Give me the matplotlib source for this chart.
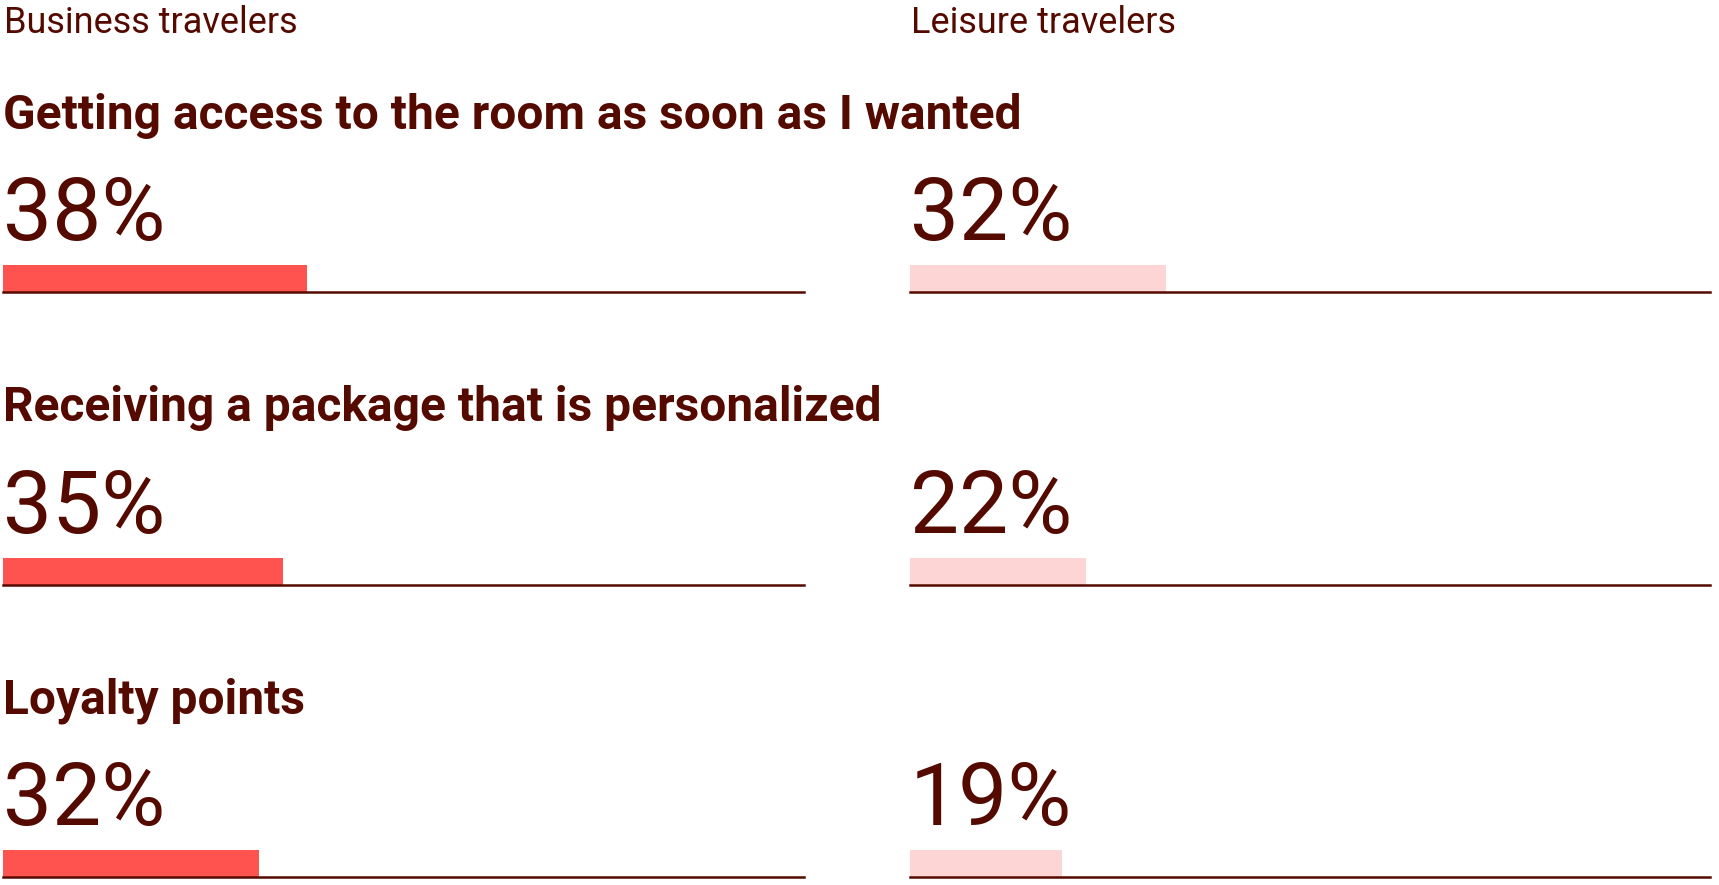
import matplotlib
matplotlib.use("Agg")
import matplotlib.pyplot as plt

# ───── DATA ─────
groups = ["Business travelers", "Leisure travelers"]
items = [
    "Getting access to the room as soon as I wanted",
    "Receiving a package that is personalized",
    "Loyalty points",
]
business = [38, 35, 32]
leisure = [32, 22, 19]

# ───── STYLE ─────
TEXT = "#550a00"
BAR_COLORS = ["#ff5350", "#fdd5d5"]
W, H = 1719, 885
plt.rcParams["font.family"] = ["Roboto", "DejaVu Sans"]

fig = plt.figure(figsize=(W / 100, H / 100), dpi=100)
fig.patch.set_facecolor("white")

def fx(px):
    return px / W

def fy(px):
    return 1 - px / H

col_left = [3.3, 910.0]
col_width = 800.4
row_step = 292.5

# column headers
for g, x in zip(groups, col_left):
    fig.text(fx(x + 1), fy(33), g, fontsize=26, color=TEXT, va="baseline", ha="left")

series = [business, leisure]
for r, item in enumerate(items):
    off = r * row_step
    fig.text(fx(col_left[0]), fy(129 + off), item, fontsize=34.5, fontweight="bold",
             color=TEXT, va="baseline", ha="left")
    for c, vals in enumerate(series):
        x0 = col_left[c]
        fig.text(fx(x0), fy(240 + off), f"{vals[r]}%", fontsize=63, color=TEXT,
                 va="baseline", ha="left")
        # bar + baseline axis
        bottom = 292 + off
        ax = fig.add_axes([fx(x0), fy(bottom), fx(col_width), 27 / H])
        ax.barh(0, vals[r], height=1, left=0, align="edge", color=BAR_COLORS[c], linewidth=0)
        ax.axhline(0, color=TEXT, linewidth=1.8, clip_on=False)
        ax.set_xlim(0, 100)
        ax.set_ylim(0, 1)
        ax.axis("off")

fig.savefig("out.png", dpi=100, facecolor="white")
